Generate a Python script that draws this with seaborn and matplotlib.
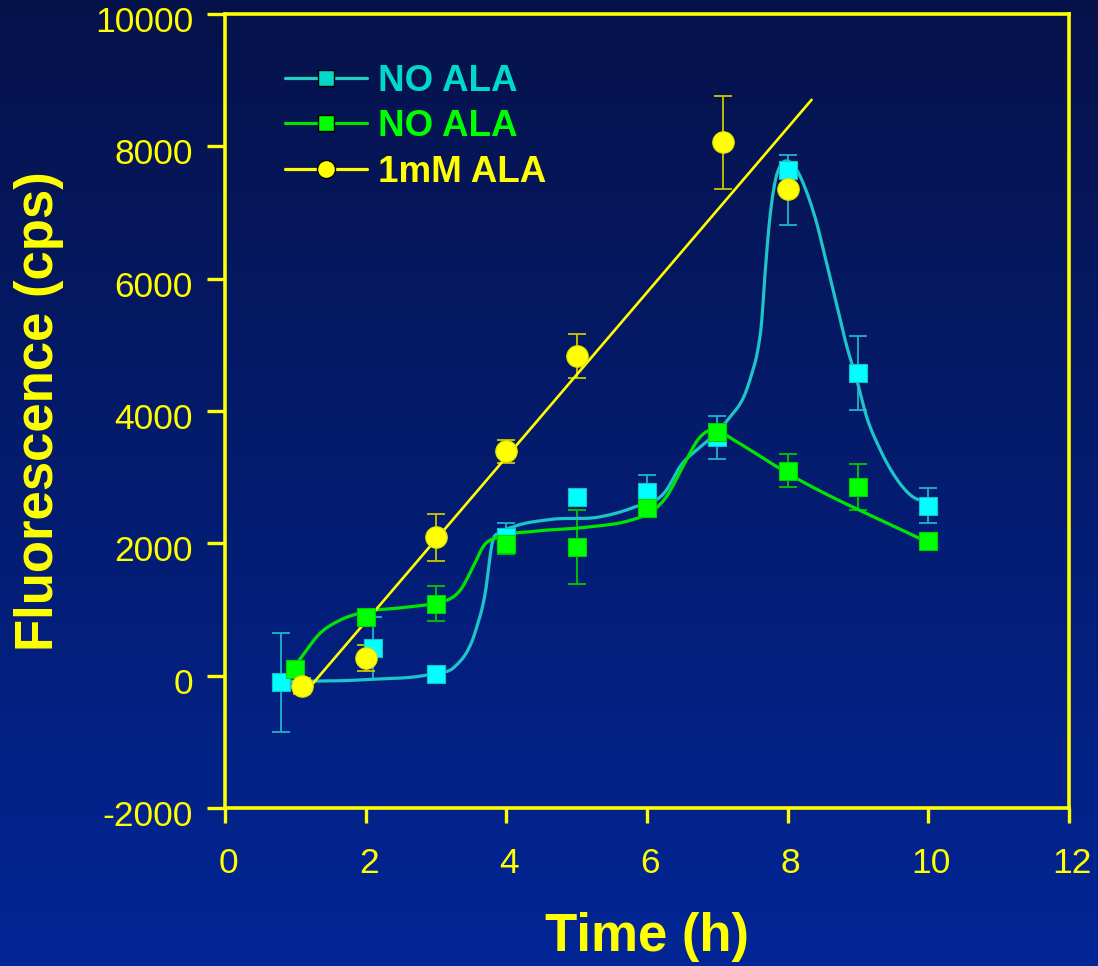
import numpy as np
import pandas as pd
import matplotlib
matplotlib.use("Agg")
import matplotlib.pyplot as plt
import matplotlib.transforms as mtransforms
from matplotlib.lines import Line2D
import seaborn as sns

# ---------------- data ----------------
cyan_x = [0.8, 2.1, 3, 4, 5, 6, 7, 8, 9, 10]
cyan_y = [-100, 420, 30, 2090, 2700, 2780, 3600, 7640, 4580, 2570]
cyan_err_lo = [750, 470, 0, 210, 0, 250, 330, 830, 570, 270]
cyan_err_hi = [750, 470, 0, 210, 0, 250, 320, 230, 550, 260]

green_x = [1, 2, 3, 4, 5, 6, 7, 8, 9, 10]
green_y = [100, 880, 1090, 1990, 1940, 2540, 3680, 3100, 2850, 2040]
green_err = [0, 0, 270, 150, 560, 0, 0, 250, 350, 0]

yellow_x = [1.09, 2.01, 3, 4, 5, 7.08, 8]
yellow_y = [-150, 270, 2090, 3390, 4830, 8060, 7350]
yellow_err = [120, 195, 360, 170, 330, 700, 0]

# smooth curve values
cyan_curve_x = [0.8, 2.0, 3.0, 3.25, 3.57, 3.70, 3.80, 3.91, 4.1, 4.62, 5.33, 5.8,
                6.28, 6.47, 6.75, 7.0, 7.15, 7.42, 7.5, 7.57, 7.63, 7.68, 7.74,
                7.82, 7.91, 7.99, 8.1, 8.27, 8.41, 8.55, 8.69, 8.84, 8.98, 9.12,
                9.3, 9.49, 9.77, 10.0]
cyan_curve_y = [-90, -60, 40, 120, 700, 1250, 2010, 2160, 2250, 2360, 2400, 2540,
                2810, 3160, 3450, 3680, 3870, 4330, 4600, 4890, 5350, 6100, 6850,
                7460, 7730, 7780, 7690, 7310, 6850, 6250, 5640, 4980, 4480, 3920,
                3450, 3070, 2710, 2620]
green_curve_x = [1.03, 1.36, 1.6, 1.93, 2.54, 3.02, 3.1, 3.35, 3.53, 3.67, 3.91,
                 4.38, 5.1, 5.8, 6.04, 6.28, 6.51, 6.75, 6.85, 7.0, 7.22, 7.98, 10.0]
green_curve_y = [200, 650, 820, 950, 1030, 1100, 1120, 1300, 1650, 1950, 2100,
                 2180, 2240, 2360, 2460, 2710, 3160, 3600, 3690, 3700, 3570, 3070, 2010]
yellow_fit_range = [1.19, 8.34]

labels = ["NO ALA", "NO ALA", "1mM ALA"]
x_ticks = [0, 2, 4, 6, 8, 10, 12]
y_ticks = [-2000, 0, 2000, 4000, 6000, 8000, 10000]

# ---------------- helpers ----------------
def smooth_curve(x, y, xs):
    """Cubic Hermite curve with Bessel (three-point) slopes."""
    x = np.asarray(x, float); y = np.asarray(y, float)
    h = np.diff(x); d = np.diff(y) / h
    n = len(x); m = np.zeros(n)
    for k in range(1, n - 1):
        m[k] = (h[k] * d[k - 1] + h[k - 1] * d[k]) / (h[k - 1] + h[k])
    m[0] = d[0]; m[-1] = d[-1]
    idx = np.clip(np.searchsorted(x, xs) - 1, 0, n - 2)
    t = (xs - x[idx]) / h[idx]
    h00 = 2 * t**3 - 3 * t**2 + 1; h10 = t**3 - 2 * t**2 + t
    h01 = -2 * t**3 + 3 * t**2; h11 = t**3 - t**2
    return h00 * y[idx] + h10 * h[idx] * m[idx] + h01 * y[idx + 1] + h11 * h[idx] * m[idx + 1]

# ---------------- style ----------------
sns.set_theme(style="ticks")
plt.rcParams["font.family"] = ["Liberation Sans", "DejaVu Sans"]
plt.rcParams["axes.unicode_minus"] = False

YEL = "#ffff00"
CY_LINE, CY_MARK, CY_ERR = "#1ec4c8", "#00ffff", "#1fb4c4"
GR_LINE, GR_MARK, GR_ERR = "#00e600", "#00ff00", "#00c800"
YE_ERR = "#c8c800"

W, H = 1098, 966
fig = plt.figure(figsize=(W / 100, H / 100), dpi=100)

# gradient background
bg = fig.add_axes([0, 0, 1, 1], zorder=-10)
top = np.array([6, 18, 74]) / 255
bot = np.array([2, 38, 150]) / 255
t = np.linspace(0, 1, 256)[:, None]
grad = (top[None, :] * (1 - t) + bot[None, :] * t)[:, None, :]
bg.imshow(grad, aspect="auto", extent=[0, 1, 0, 1])
bg.axis("off")

ax = fig.add_axes([225 / W, 1 - 808 / H, (1069 - 225) / W, (808 - 14) / H])
ax.set_facecolor("none")

# curves
xs = np.linspace(cyan_curve_x[0], cyan_curve_x[-1], 1000)
sns.lineplot(x=xs, y=smooth_curve(cyan_curve_x, cyan_curve_y, xs), ax=ax, color=CY_LINE,
             lw=2.3, estimator=None, sort=False, zorder=3)
xs = np.linspace(green_curve_x[0], green_curve_x[-1], 1000)
sns.lineplot(x=xs, y=smooth_curve(green_curve_x, green_curve_y, xs), ax=ax, color=GR_LINE,
             lw=2.3, estimator=None, sort=False, zorder=3)
coef = np.polyfit(yellow_x, yellow_y, 1)
fx = np.array(yellow_fit_range)
sns.lineplot(x=fx, y=np.polyval(coef, fx), ax=ax, color=YEL, lw=1.9,
             estimator=None, sort=False, zorder=3)

# error bars
def errbars(x, y, lo, hi, color):
    x = np.asarray(x); y = np.asarray(y); lo = np.asarray(lo); hi = np.asarray(hi)
    keep = (lo > 0) | (hi > 0)
    ax.errorbar(x[keep], y[keep], yerr=[lo[keep], hi[keep]], fmt="none", ecolor=color,
                elinewidth=1.3, capsize=6.2, capthick=1.3, zorder=2)

errbars(cyan_x, cyan_y, cyan_err_lo, cyan_err_hi, CY_ERR)
errbars(green_x, green_y, green_err, green_err, GR_ERR)
errbars(yellow_x, yellow_y, yellow_err, yellow_err, YE_ERR)

# markers
sns.scatterplot(x=cyan_x, y=cyan_y, ax=ax, marker="s", s=170, color=CY_MARK,
                edgecolor="#18c0c8", linewidth=0.8, zorder=4)
sns.scatterplot(x=green_x, y=green_y, ax=ax, marker="s", s=170, color=GR_MARK,
                edgecolor="#00d000", linewidth=0.8, zorder=4)
sns.scatterplot(x=yellow_x, y=yellow_y, ax=ax, marker="o", s=240, color=YEL,
                edgecolor="#e0e000", linewidth=0.8, zorder=5)

# axes
ax.set_xlim(0, 12)
ax.set_ylim(-2000, 10000)
ax.set_xticks(x_ticks)
ax.set_yticks(y_ticks)
ax.set_xticklabels([str(v) for v in x_ticks])
ax.set_yticklabels([str(v) for v in y_ticks])
for s in ax.spines.values():
    s.set_visible(True)
    s.set_color(YEL)
    s.set_linewidth(2.6)
ax.tick_params(axis="both", colors=YEL, width=2.4, direction="out", labelsize=25.5)
ax.tick_params(axis="x", length=11, pad=17)
ax.tick_params(axis="y", length=13, pad=10)
ax.grid(False)
# small nudges of the tick labels, as in the reference
dy = mtransforms.ScaledTranslation(0, -5 / 100, fig.dpi_scale_trans)
for lab in ax.get_yticklabels():
    lab.set_transform(lab.get_transform() + dy)
dx = mtransforms.ScaledTranslation(3 / 100, 0, fig.dpi_scale_trans)
for lab in ax.get_xticklabels():
    lab.set_transform(lab.get_transform() + dx)

ax.set_xlabel("Time (h)", color=YEL, fontsize=38, fontweight="bold", labelpad=23)
ax.set_ylabel("Fluorescence (cps)", color=YEL, fontsize=38, fontweight="bold", labelpad=22)

# legend
handles = [
    Line2D([], [], color="#20d0c0", lw=2.3, marker="s", markersize=12,
           markerfacecolor="#00d8c8", markeredgecolor="black", markeredgewidth=1),
    Line2D([], [], color=GR_LINE, lw=2.3, marker="s", markersize=12,
           markerfacecolor=GR_MARK, markeredgecolor="black", markeredgewidth=1),
    Line2D([], [], color=YEL, lw=2.3, marker="o", markersize=13,
           markerfacecolor=YEL, markeredgecolor="black", markeredgewidth=1),
]
leg = ax.legend(handles, labels, loc="upper left", bbox_to_anchor=(285 / W, 1 - 64 / H),
                bbox_transform=fig.transFigure, frameon=False, handlelength=2.22,
                handletextpad=0.3, labelspacing=0.28, borderpad=0, borderaxespad=0,
                prop={"family": "Liberation Sans", "weight": "bold", "size": 26.5})
for txt, c in zip(leg.get_texts(), ["#00d8c8", "#00ff00", YEL]):
    txt.set_color(c)

fig.savefig("out.png", dpi=100)
